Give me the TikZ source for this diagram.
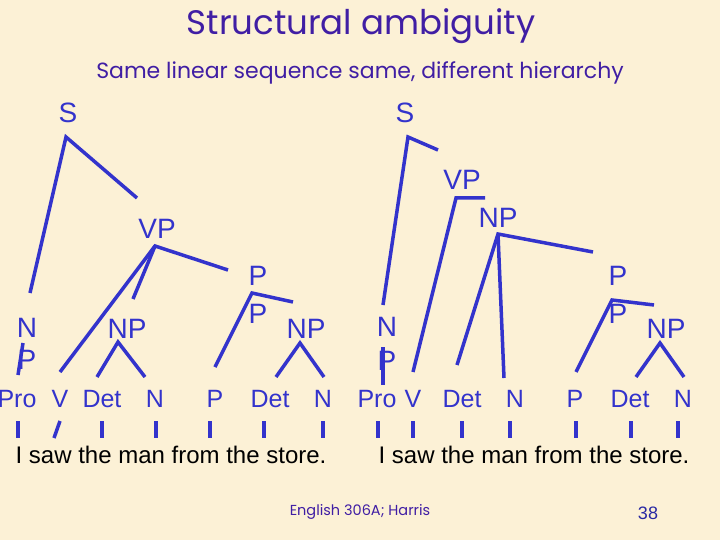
\documentclass[tikz,border=0pt]{standalone}
\usepackage{fontspec}
\setmainfont{Liberation Sans}
\newfontfamily\slidefont{Poppins}
\usetikzlibrary{positioning}
\definecolor{parchment}{RGB}{252,241,214}
\definecolor{treeblue}{RGB}{51,51,204}
\definecolor{slidepurple}{RGB}{64,30,164}
\tikzset{
  phrase/.style={font=\fontsize{28}{28}\selectfont, text=treeblue, inner sep=0pt, anchor=base},
  word/.style={font=\fontsize{25}{25}\selectfont, text=treeblue, inner sep=0pt, anchor=base},
  sentence/.style={font=\fontsize{24}{24}\selectfont, text=black, inner sep=0pt, anchor=base},
  branch/.style={draw=treeblue, line width=3.5pt},
}

\begin{document}
\begin{tikzpicture}[x=1pt, y=-1pt]
  \fill[parchment] (0,0) rectangle (720,540);
  \useasboundingbox (0,0) rectangle (720,540);

  % heading
  \node[font=\slidefont\fontsize{34}{34}\selectfont, text=slidepurple, anchor=base, inner sep=0pt]
    (title) at (361,35) {Structural ambiguity};
  \node[font=\slidefont\fontsize{22}{22}\selectfont, text=slidepurple, anchor=base, inner sep=0pt]
    (subtitle) at (360,79) {Same linear sequence same, different hierarchy};

  % left tree: [S [NP] [VP V [NP] [PP]]]
  \node[phrase] (lS) at (68,123) {S};
  \node[phrase] (lVP) at (157,238) {VP};
  \node[phrase] (lN) at (27,337) {N};
  \node[phrase] (lP) at (27,369) {P};
  \node[phrase] (lNP) at (127,338) {NP};
  \node[phrase] (lPPa) at (258,285) {P};
  \node[phrase] (lPPb) at (258,323) {P};
  \node[phrase] (lNPb) at (306,338) {NP};
  \coordinate (lS-top) at (66,137);
  \coordinate (lS-l) at (30,293);
  \coordinate (lS-r) at (137,198);
  \coordinate (lNP-a) at (23,343);
  \coordinate (lNP-b) at (18,375);
  \coordinate (lVP-top) at (155,246);
  \coordinate (lVP-r) at (228,270);
  \coordinate (lVP-v) at (60,372);
  \coordinate (lVP-np) at (133,299);
  \coordinate (lNP-top) at (118,342);
  \coordinate (lNP-l) at (97,377);
  \coordinate (lNP-r) at (145,377);
  \coordinate (lPP-top) at (252,293);
  \coordinate (lPP-r) at (293,302);
  \coordinate (lPP-l) at (215,367);
  \coordinate (lNPb-top) at (300,343);
  \coordinate (lNPb-l) at (276,377);
  \coordinate (lNPb-r) at (324,377);
  \draw[branch] (lS-l) -- (lS-top) -- (lS-r);
  \draw[branch] (lNP-a) -- (lNP-b);
  \draw[branch] (lVP-v) -- (lVP-top) -- (lVP-r);
  \draw[branch] (lVP-top) -- (lVP-np);
  \draw[branch] (lNP-l) -- (lNP-top) -- (lNP-r);
  \draw[branch] (lPP-l) -- (lPP-top) -- (lPP-r);
  \draw[branch] (lNPb-l) -- (lNPb-top) -- (lNPb-r);

  % right tree: [S [NP] [VP V [NP Det N [PP]]]]
  \node[phrase] (rS) at (405,123) {S};
  \node[phrase] (rVP) at (462,190) {VP};
  \node[phrase] (rNP) at (498,227) {NP};
  \node[phrase] (rN) at (387,336) {N};
  \node[phrase] (rP) at (387,370) {P};
  \node[phrase] (rPPa) at (618,285) {P};
  \node[phrase] (rPPb) at (618,323) {P};
  \node[phrase] (rNPb) at (666,338) {NP};
  \coordinate (rS-top) at (408,137);
  \coordinate (rS-r) at (438,150);
  \coordinate (rS-l) at (383,305);
  \coordinate (rNP-a) at (383,347);
  \coordinate (rNP-b) at (383,385);
  \coordinate (rVP-top) at (456,198);
  \coordinate (rVP-r) at (485,198);
  \coordinate (rVP-v) at (413,372);
  \coordinate (rNP-top) at (498,234);
  \coordinate (rNP-r) at (593,252);
  \coordinate (rNP-det) at (457,365);
  \coordinate (rNP-n) at (504,378);
  \coordinate (rPP-top) at (612,300);
  \coordinate (rPP-r) at (654,305);
  \coordinate (rPP-l) at (576,372);
  \coordinate (rNPb-top) at (660,343);
  \coordinate (rNPb-l) at (636,377);
  \coordinate (rNPb-r) at (684,377);
  \draw[branch] (rS-l) -- (rS-top) -- (rS-r);
  \draw[branch] (rNP-a) -- (rNP-b);
  \draw[branch] (rVP-v) -- (rVP-top) -- (rVP-r);
  \draw[branch] (rNP-det) -- (rNP-top) -- (rNP-r);
  \draw[branch] (rNP-top) -- (rNP-n);
  \draw[branch] (rPP-l) -- (rPP-top) -- (rPP-r);
  \draw[branch] (rNPb-l) -- (rNPb-top) -- (rNPb-r);

  % word categories
  \node[word] (lPro) at (17,407) {Pro};
  \node[word] (lV) at (60,407) {V};
  \node[word] (lDet) at (102,407) {Det};
  \node[word] (lNn) at (155,407) {N};
  \node[word] (lPrep) at (215,407) {P};
  \node[word] (lDetb) at (270,407) {Det};
  \node[word] (lNnb) at (323,407) {N};
  \node[word] (rPro) at (377,407) {Pro};
  \node[word] (rV) at (413,407) {V};
  \node[word] (rDet) at (462,407) {Det};
  \node[word] (rNn) at (515,407) {N};
  \node[word] (rPrep) at (575,407) {P};
  \node[word] (rDetb) at (630,407) {Det};
  \node[word] (rNnb) at (683,407) {N};

  % ticks
  \foreach \x in {18,102,156,210,264,323,378,413,462,510,576,631,678}
    \draw[branch] (\x,421) -- (\x,438);
  \draw[branch] (60,421) -- (54,438);

  % sentences
  \node[sentence] (lSent) at (171,463) {I saw the man from the store.};
  \node[sentence] (rSent) at (534,463) {I saw the man from the store.};

  % footer
  \node[font=\slidefont\fontsize{14.5}{14.5}\selectfont, text=slidepurple, anchor=base, inner sep=0pt]
    (course) at (360,515) {English 306A; Harris};
  \node[font=\fontsize{18}{18}\selectfont, text=treeblue!80!black, anchor=base, inner sep=0pt]
    (page) at (648,519) {38};
\end{tikzpicture}
\end{document}
